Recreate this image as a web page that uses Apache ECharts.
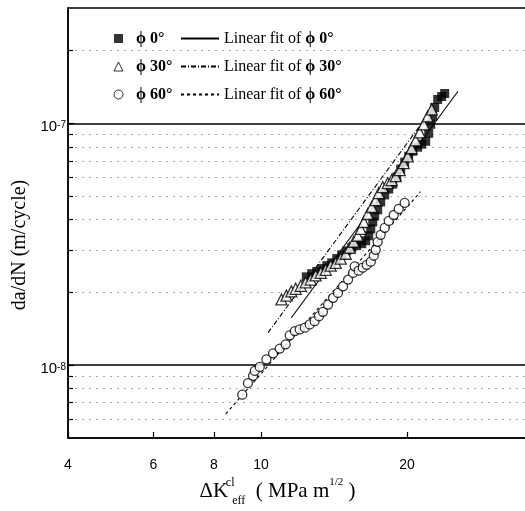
<!DOCTYPE html>
<html><head><meta charset="utf-8">
<script src="https://cdn.jsdelivr.net/npm/echarts@6/dist/echarts.min.js"></script>
<style>html,body{margin:0;padding:0;background:#fff}#c{width:525px;height:511px}</style>
</head><body><div id="c"></div>
<script>
// ---- data (ΔK in MPa m^1/2, da/dN in m/cycle) ----
const phi0K = [12.4,12.72,13.03,13.35,13.67,13.99,14.33,14.67,15.02,15.38,15.75,16.13,16.44,16.68,16.84,17.0,17.16,17.4,17.65,17.99,18.34,18.69,19.05,19.41,19.78,20.16,20.55,21.04,21.44,21.86,22.17,22.38,22.59,22.81,23.14,23.58,23.92];
const phi0Rate = [2.32e-8,2.39e-8,2.44e-8,2.51e-8,2.58e-8,2.65e-8,2.76e-8,2.86e-8,2.97e-8,3.06e-8,3.12e-8,3.18e-8,3.27e-8,3.43e-8,3.66e-8,3.91e-8,4.14e-8,4.39e-8,4.73e-8,5.06e-8,5.35e-8,5.61e-8,6.0e-8,6.47e-8,6.91e-8,7.31e-8,7.67e-8,7.97e-8,8.2e-8,8.43e-8,9.1e-8,9.91e-8,1.069e-7,1.163e-7,1.256e-7,1.292e-7,1.329e-7];
const phi30K = [11.02,11.28,11.55,11.79,12.08,12.36,12.66,12.96,13.28,13.6,13.92,14.26,14.6,14.95,15.24,15.53,15.83,16.06,16.29,16.6,16.92,17.24,17.49,17.82,18.25,18.6,18.96,19.32,19.69,20.07,20.45,20.84,21.24,21.65,22.06,22.49];
const phi30Rate = [1.87e-8,1.94e-8,2.02e-8,2.07e-8,2.13e-8,2.2e-8,2.26e-8,2.35e-8,2.41e-8,2.48e-8,2.58e-8,2.65e-8,2.76e-8,2.89e-8,3.06e-8,3.24e-8,3.43e-8,3.66e-8,3.91e-8,4.22e-8,4.51e-8,4.82e-8,5.15e-8,5.45e-8,5.66e-8,5.83e-8,6.05e-8,6.41e-8,6.85e-8,7.31e-8,7.89e-8,8.51e-8,9.18e-8,9.91e-8,1.069e-7,1.142e-7];
const phi60K = [9.15,9.40,9.63,9.71,9.94,10.26,10.59,10.93,11.24,11.46,11.74,12.02,12.31,12.6,12.9,13.17,13.42,13.75,14.08,14.41,14.76,15.12,15.48,15.6,15.9,16.21,16.52,16.84,17.08,17.24,17.4,17.65,17.99,18.34,18.78,19.23,19.78];
const phi60Rate = [7.55e-9,8.43e-9,9.04e-9,9.47e-9,9.84e-9,1.058e-8,1.12e-8,1.171e-8,1.22e-8,1.329e-8,1.384e-8,1.406e-8,1.429e-8,1.475e-8,1.521e-8,1.595e-8,1.663e-8,1.782e-8,1.899e-8,1.991e-8,2.12e-8,2.26e-8,2.407e-8,2.563e-8,2.46e-8,2.53e-8,2.6e-8,2.68e-8,2.836e-8,3.0e-8,3.237e-8,3.46e-8,3.7e-8,3.95e-8,4.18e-8,4.43e-8,4.69e-8];
const fit0K = [11.55, 25.48];
const fit0Rate = [1.571e-8, 1.358e-7];
const fit30K = [10.34, 22.59];
const fit30Rate = [1.363e-8, 1.153e-7];
const fit60K = [8.46, 21.32];
const fit60Rate = [6.29e-9, 5.216e-8];
const xTicks = [4, 6, 8, 10, 20];
const yMajor = [1e-8, 1e-7];
const yMinor = [6e-9,7e-9,8e-9,9e-9,2e-8,3e-8,4e-8,5e-8,6e-8,7e-8,8e-8,9e-8,2e-7];
const scatterNames = ['ϕ 0°', 'ϕ 30°', 'ϕ 60°'];
const fitNames = ['Linear fit of ϕ 0°', 'Linear fit of ϕ 30°', 'Linear fit of ϕ 60°'];

const zip = (a, b) => a.map((v, i) => [v, b[i]]);
const SERIF = "'Liberation Serif','DejaVu Serif',serif";
const SANS = "'Liberation Sans',Arial,sans-serif";

const chart = echarts.init(document.getElementById('c'), null, {renderer: 'canvas'});
const hollow = {color: '#fff', borderColor: '#000', borderWidth: 1.3};
const noSym = {color: 'rgba(0,0,0,0)', borderColor: 'rgba(0,0,0,0)', borderWidth: 0};
chart.setOption({
  animation: false,
  backgroundColor: '#fff',
  grid: {left: 68, right: -28, top: 8, bottom: 73, show: true, borderColor: '#000', borderWidth: 1.5, outerBoundsMode: 'none', containLabel: false},
  legend: [
    {
      data: [
        {name: scatterNames[0], icon: 'rect', itemStyle: {color: '#000', borderWidth: 0}},
        {name: scatterNames[1], icon: 'triangle', itemStyle: {color: '#fff', borderColor: '#000', borderWidth: 1}},
        {name: scatterNames[2], icon: 'circle', itemStyle: {color: '#fff', borderColor: '#000', borderWidth: 1}}
      ],
      left: 113.5, top: 30, padding: 0, orient: 'vertical', itemWidth: 9, itemHeight: 9, itemGap: 11,
      textStyle: {fontFamily: SERIF, fontWeight: 'bold', fontSize: 16, lineHeight: 17, color: '#000', padding: [0, 0, 0, 8]}
    },
    {
      data: fitNames.map(n => ({name: n, itemStyle: noSym})),
      left: 180, top: 30, padding: 0, orient: 'vertical', itemWidth: 38, itemHeight: 14, itemGap: 11,
      formatter: n => '{n|Linear fit of }{b|' + n.replace('Linear fit of ', '') + '}',
      textStyle: {fontSize: 16, lineHeight: 17, color: '#000', rich: {
        n: {fontFamily: SERIF, fontSize: 16, lineHeight: 17, color: '#000'},
        b: {fontFamily: SERIF, fontSize: 16, lineHeight: 17, fontWeight: 'bold', color: '#000'}
      }}
    }
  ],
  xAxis: {
    type: 'log', logBase: 10, min: 4, max: 40,
    name: '{a|ΔK}{sup|cl}{sub|eff}{a|  ( MPa m}{s2|1/2}{a| )}',
    nameLocation: 'middle', nameGap: 37,
    nameTextStyle: {padding: [0, 66, 0, 0], rich: {
      a: {fontFamily: SERIF, fontSize: 21, color: '#000', lineHeight: 30, verticalAlign: 'middle'},
      sup: {fontFamily: SERIF, fontSize: 12, color: '#000', width: 0, lineHeight: 30, verticalAlign: 'top', padding: [0, 0, 0, 2]},
      sub: {fontFamily: SERIF, fontSize: 12, color: '#000', lineHeight: 30, verticalAlign: 'bottom', padding: [0, 0, 0, 2]},
      s2: {fontFamily: SERIF, fontSize: 11, color: '#000', lineHeight: 30, verticalAlign: 'top'}
    }},
    axisLine: {onZero: false, lineStyle: {color: '#000', width: 1.5}},
    axisTick: {inside: true, length: 6, customValues: xTicks, lineStyle: {color: '#000', width: 1.2}},
    axisLabel: {customValues: xTicks, fontFamily: SANS, fontSize: 14, color: '#000', margin: 20},
    splitLine: {show: false}, minorTick: {show: false}
  },
  yAxis: [
    {
      type: 'log', logBase: 10, min: 5e-9, max: 3e-7, position: 'left',
      name: 'da/dN (m/cycle)', nameLocation: 'middle', nameGap: 32,
      nameTextStyle: {fontFamily: SERIF, fontSize: 20, color: '#000', padding: [0, 44, 0, 0]},
      axisLine: {show: true, onZero: false, lineStyle: {color: '#000', width: 1.5}},
      axisTick: {inside: true, length: 6, customValues: yMajor, lineStyle: {color: '#000', width: 1.2}},
      axisLabel: {customValues: yMajor, margin: 2,
        formatter: v => '{b|10}{s|' + Math.round(Math.log10(v)) + '}',
        rich: {
          b: {fontFamily: SANS, fontSize: 15, color: '#000', lineHeight: 22, verticalAlign: 'bottom', padding: [8, 0, 0, 0]},
          s: {fontFamily: SANS, fontSize: 10, color: '#000', lineHeight: 22, verticalAlign: 'top', padding: [8, 0, 0, 0]}
        }},
      splitLine: {show: true, lineStyle: {color: '#000', width: 1.5}}
    },
    {
      type: 'log', logBase: 10, min: 5e-9, max: 3e-7, position: 'left',
      axisLine: {show: false},
      axisTick: {inside: true, length: 5, customValues: yMinor, lineStyle: {color: '#000', width: 1.2}},
      axisLabel: {show: false},
      splitLine: {show: true, lineStyle: {color: '#a8a8a8', width: 1, type: [2, 5]}}
    }
  ],
  series: [
    {name: fitNames[0], type: 'line', data: zip(fit0K, fit0Rate), symbol: 'none', z: 3,
     lineStyle: {color: '#000', width: 1.1, type: 'solid'}, itemStyle: {color: '#000'}},
    {name: fitNames[1], type: 'line', data: zip(fit30K, fit30Rate), symbol: 'none', z: 3,
     lineStyle: {color: '#000', width: 1.1, type: [5, 2, 1, 2]}, itemStyle: {color: '#000'}},
    {name: fitNames[2], type: 'line', data: zip(fit60K, fit60Rate), symbol: 'none', z: 3,
     lineStyle: {color: '#000', width: 1.1, type: [3, 3]}, itemStyle: {color: '#000'}},
    {name: scatterNames[0], type: 'scatter', data: zip(phi0K, phi0Rate), symbol: 'rect', symbolSize: 9, z: 4,
     itemStyle: {color: '#000'}},
    {name: scatterNames[1], type: 'scatter', data: zip(phi30K, phi30Rate), symbol: 'triangle', symbolSize: 11, z: 4,
     itemStyle: hollow},
    {name: scatterNames[2], type: 'scatter', data: zip(phi60K, phi60Rate), symbol: 'circle', symbolSize: 9, z: 4,
     itemStyle: hollow}
  ]
});
</script></body></html>
